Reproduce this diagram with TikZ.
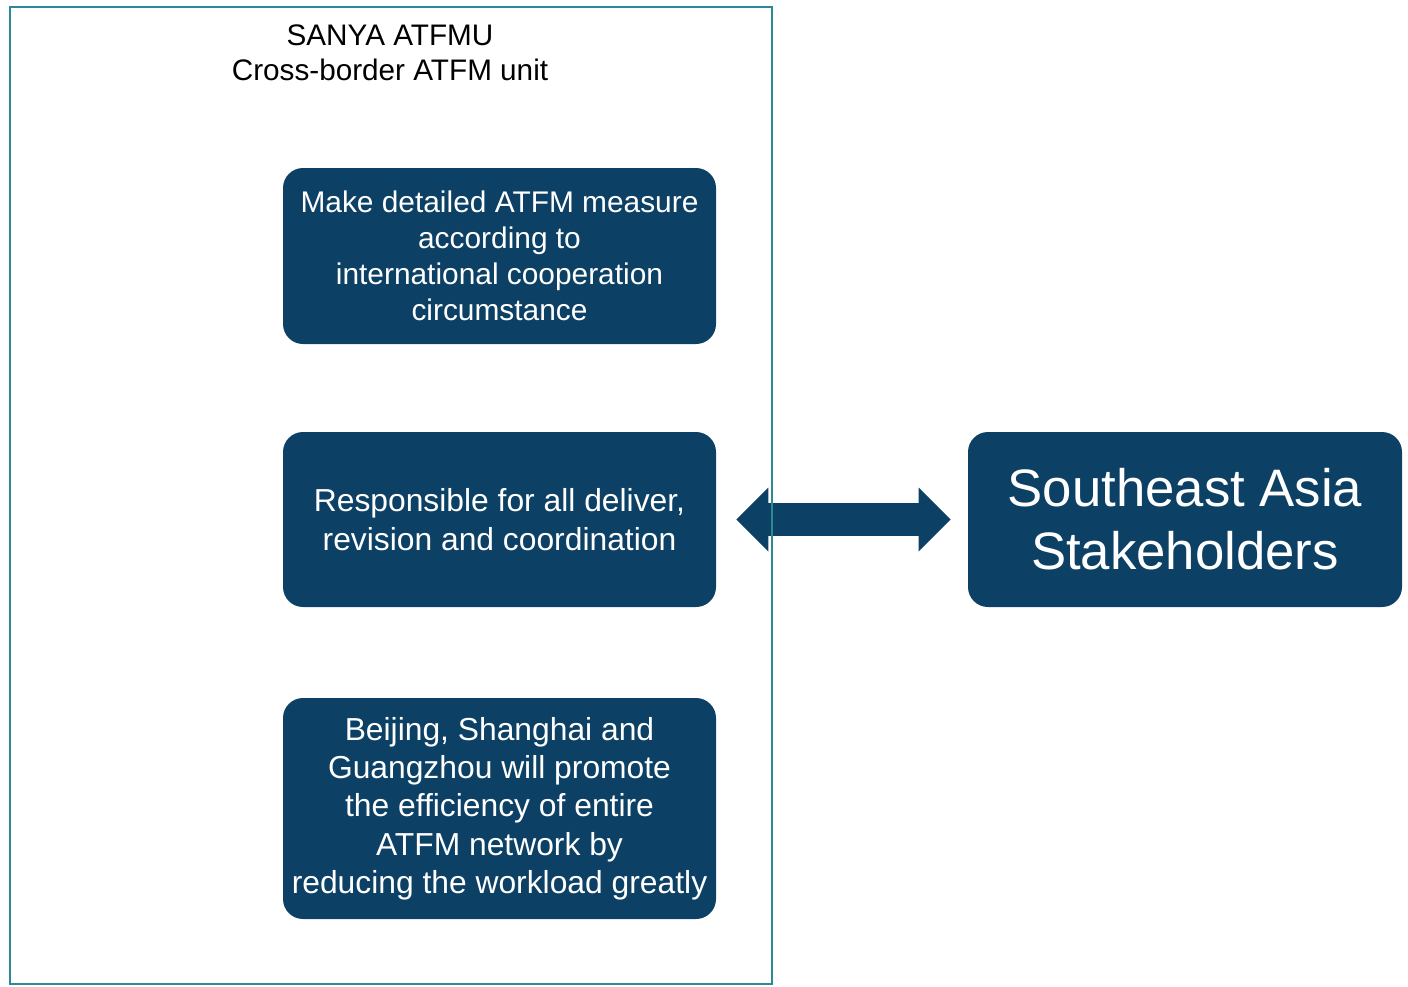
\documentclass[tikz,border=0pt]{standalone}
\usepackage{fontspec}
\setmainfont{Liberation Sans}
\usetikzlibrary{arrows.meta}
\definecolor{atfmblue}{RGB}{13,64,101}
\definecolor{unitteal}{RGB}{42,138,150}

\begin{document}
\begin{tikzpicture}[
        task/.style={rectangle, rounded corners=0.4cm, fill=atfmblue, text=white, align=center, minimum width=8.66cm},
        biarrow/.style={draw=atfmblue, line width=0.66cm, {Triangle[width=1.28cm,length=0.64cm,line width=0pt]}-{Triangle[width=1.28cm,length=0.64cm,line width=0pt]}, shorten <=0.4cm, shorten >=0.34cm}
    ]
    \useasboundingbox (0,0) rectangle (28.16,-19.74);

    \node[task, minimum height=3.52cm, font=\fontsize{17}{20.5}\selectfont] (measure) at (9.99,-5.12) {Make detailed ATFM measure\\according to\\international cooperation\\circumstance};
    \node[task, minimum height=3.5cm, font=\fontsize{18.1}{22}\selectfont] (deliver) at (9.99,-10.39) {Responsible for all deliver,\\revision and coordination};
    \node[task, minimum height=4.42cm, font=\fontsize{18.1}{21.8}\selectfont] (network) at (9.99,-16.17) {Beijing, Shanghai and\\Guangzhou will promote\\the efficiency of entire\\ATFM network by\\reducing the workload greatly};
    \node[task, minimum width=8.68cm, minimum height=3.5cm, font=\fontsize{30}{36}\selectfont] (stake) at (23.7,-10.39) {Southeast Asia\\Stakeholders};

    \draw[biarrow] (deliver) -- (stake);

    % unit frame on top of the arrow
    \node[draw=unitteal, line width=0.05cm, rectangle, minimum width=15.24cm, minimum height=19.54cm] (unit) at (7.82,-9.91) {};
    \node[align=center, font=\fontsize{16.9}{20}\selectfont] (title) at (7.8,-1.05) {SANYA ATFMU\\Cross-border ATFM unit};
\end{tikzpicture}
\end{document}
